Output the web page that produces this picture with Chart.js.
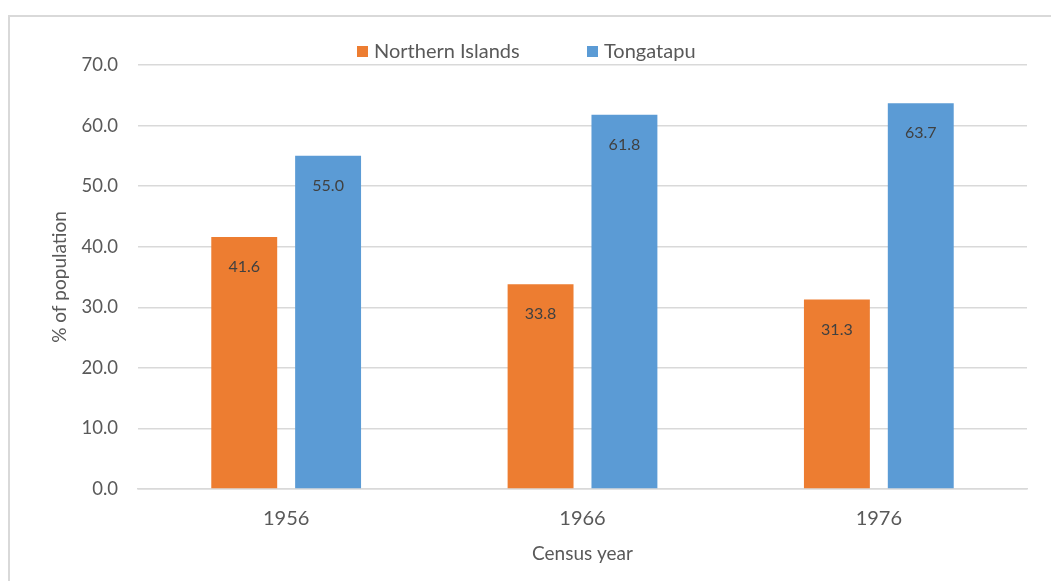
<!DOCTYPE html>
<html>
<head>
<meta charset="utf-8">
<script src="https://cdn.jsdelivr.net/npm/chart.js@4/dist/chart.umd.min.js"></script>
<style>
html,body{margin:0;padding:0;background:#fff;overflow:hidden;}
#wrap{position:relative;width:1051px;height:581px;}
#frame{position:absolute;left:8px;top:15px;width:1100px;height:700px;border-left:2px solid #d9d9d9;border-top:2px solid #d9d9d9;box-sizing:border-box;}
canvas{position:absolute;left:0;top:0;}
</style>
</head>
<body>
<div id="wrap">
<div id="frame"></div>
<canvas id="c" width="1051" height="581"></canvas>
</div>
<script>
const categories = ["1956", "1966", "1976"];
const northernIslands = [41.6, 33.8, 31.3];
const tongatapu = [55.0, 61.8, 63.7];
const seriesNames = ["Northern Islands", "Tongatapu"];
const yTicks = [0, 10, 20, 30, 40, 50, 60, 70];

const FONT = "Lato, 'Open Sans', sans-serif";
const TXT = "#595959";

const labelPlugin = {
  id: 'labels',
  afterDatasetsDraw(chart) {
    const ctx = chart.ctx;
    ctx.save();
    ctx.font = "16px " + FONT;
    ctx.fillStyle = "#404040";
    ctx.textAlign = "center";
    ctx.textBaseline = "middle";
    chart.data.datasets.forEach((ds, i) => {
      const meta = chart.getDatasetMeta(i);
      meta.data.forEach((bar, j) => {
        ctx.fillText(ds.data[j].toFixed(1), bar.x, bar.y + 30);
      });
    });
    ctx.restore();
  }
};

const legendPlugin = {
  id: 'customLegend',
  afterDraw(chart) {
    const ctx = chart.ctx;
    ctx.save();
    ctx.font = "20px " + FONT;
    ctx.textBaseline = "middle";
    ctx.textAlign = "left";
    const xs = [357, 587];
    chart.data.datasets.forEach((ds, i) => {
      ctx.fillStyle = ds.backgroundColor;
      ctx.fillRect(xs[i], 46, 11, 11);
      ctx.fillStyle = TXT;
      ctx.fillText(ds.label, xs[i] + 17, 52);
    });
    ctx.restore();
  }
};

new Chart(document.getElementById('c'), {
  type: 'bar',
  data: {
    labels: categories,
    datasets: [
      { label: seriesNames[0], data: northernIslands, backgroundColor: "#ED7D31", categoryPercentage: 0.566, barPercentage: 0.786 },
      { label: seriesNames[1], data: tongatapu, backgroundColor: "#5B9BD5", categoryPercentage: 0.566, barPercentage: 0.786 }
    ]
  },
  options: {
    responsive: false,
    animation: false,
    layout: { padding: { left: 0, right: 24, top: 65, bottom: 0 } },
    plugins: {
      legend: { display: false },
      tooltip: { enabled: false }
    },
    scales: {
      x: {
        afterFit(axis) { axis.height = 92; },
        grid: { display: false, drawTicks: false },
        border: { color: "#d9d9d9", width: 1.5 },
        ticks: { color: TXT, font: { family: FONT, size: 20 }, padding: 18 },
        title: { display: true, text: "Census year", color: TXT, font: { family: FONT, size: 19 }, padding: { top: 0, bottom: 16 } }
      },
      y: {
        min: 0, max: 70,
        afterFit(axis) { axis.width = 138; },
        afterBuildTicks(axis) { axis.ticks = yTicks.map(v => ({ value: v })); },
        grid: { color: "#d9d9d9", lineWidth: 1.5, drawTicks: false },
        border: { display: false },
        ticks: { color: TXT, font: { family: FONT, size: 18.5 }, padding: 20, callback: v => Number(v).toFixed(1) },
        title: { display: true, text: "% of population", color: TXT, font: { family: FONT, size: 19 }, padding: { top: 48, bottom: 0 } }
      }
    }
  },
  plugins: [labelPlugin, legendPlugin]
});
</script>
</body>
</html>
